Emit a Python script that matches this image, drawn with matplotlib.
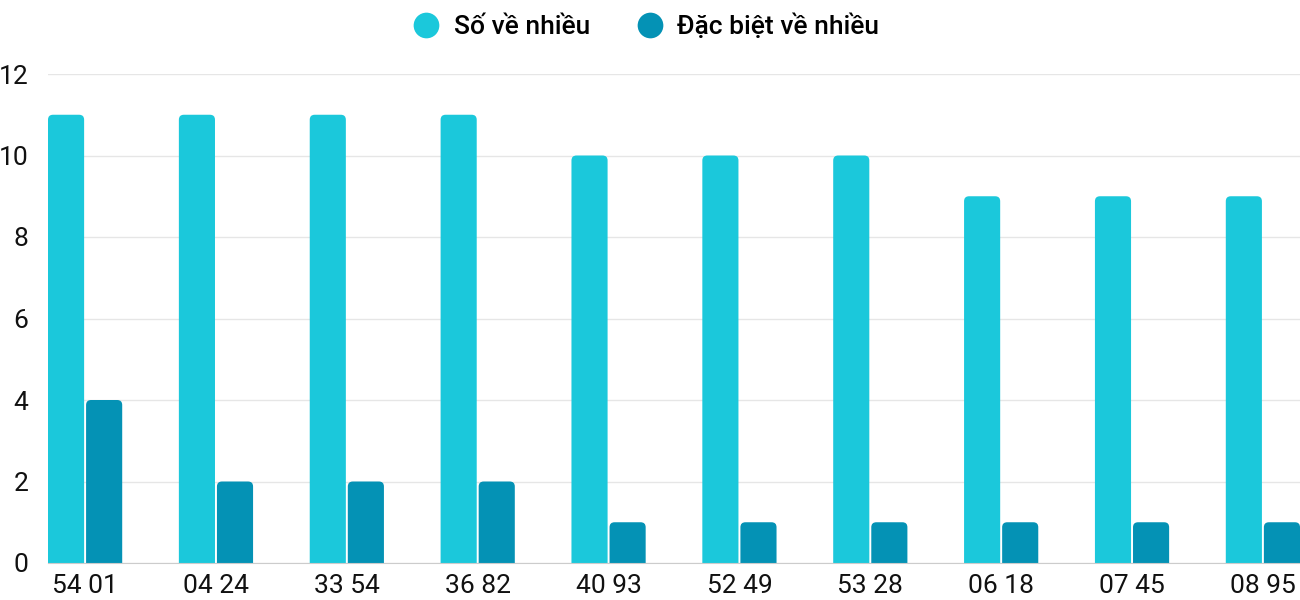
import matplotlib
matplotlib.use('Agg')
import matplotlib.pyplot as plt
from matplotlib.patches import FancyBboxPatch
from matplotlib.lines import Line2D
import numpy as np

categories = ['54 01', '04 24', '33 54', '36 82', '40 93', '52 49', '53 28', '06 18', '07 45', '08 95']
so_ve_nhieu = [11, 11, 11, 11, 10, 10, 10, 9, 9, 9]
dac_biet = [4, 2, 2, 2, 1, 1, 1, 1, 1, 1]
series_names = ['Số về nhiều', 'Đặc biệt về nhiều']
colors = ['#1bc8db', '#0492b5']

plt.rcParams['font.family'] = ['Roboto', 'DejaVu Sans']

fig = plt.figure(figsize=(13, 6), dpi=100)
W, H = 1300, 600
ax = fig.add_axes([48 / W, (H - 563) / H, (1300 - 48) / W, (563 - 74) / H])

bw = 0.276
off = 0.1455
x = np.arange(len(categories))
ax.set_xlim(-off - bw / 2, len(categories) - 1 + off + bw / 2)
ax.set_ylim(0, 12)

# pixel scale for rounded corners
px_x = (ax.get_xlim()[1] - ax.get_xlim()[0]) / (1300 - 48)
px_y = 12 / (563 - 74)
r = 5  # px radius

for vals, dx, col in [(so_ve_nhieu, -off, colors[0]), (dac_biet, off, colors[1])]:
    for xi, v in zip(x, vals):
        left = xi + dx - bw / 2
        p = FancyBboxPatch((left, -0.5), bw, v + 0.5,
                           boxstyle=f"round,pad=0,rounding_size={r * px_x}",
                           mutation_aspect=px_y / px_x,
                           facecolor=col, edgecolor='none', zorder=3)
        ax.add_patch(p)

ax.set_yticks(range(0, 13, 2))
ax.set_xticks(x)
ax.set_xticklabels(categories)
ax.tick_params(axis='both', length=0, labelsize=19, colors='#111111')
ax.tick_params(axis='y', pad=14)
ax.tick_params(axis='x', pad=8)

ax.grid(axis='y', color='#e6e6e6', linewidth=1, zorder=0)
for s in ['top', 'right', 'left']:
    ax.spines[s].set_visible(False)
ax.spines['bottom'].set_color('#cccccc')
ax.spines['bottom'].set_zorder(4)

handles = [Line2D([], [], marker='o', linestyle='none', markersize=18.5,
                  markerfacecolor=c, markeredgecolor='none') for c in colors]
fig.legend(handles, series_names, loc='center', bbox_to_anchor=(645 / W, 1 - 26 / H),
           ncol=2, frameon=False, handletextpad=0.45, handlelength=1.2,
           columnspacing=1.65,
           prop={'family': ['Roboto', 'DejaVu Sans'], 'size': 19, 'weight': 'medium'})

fig.savefig('out.png', dpi=100)
